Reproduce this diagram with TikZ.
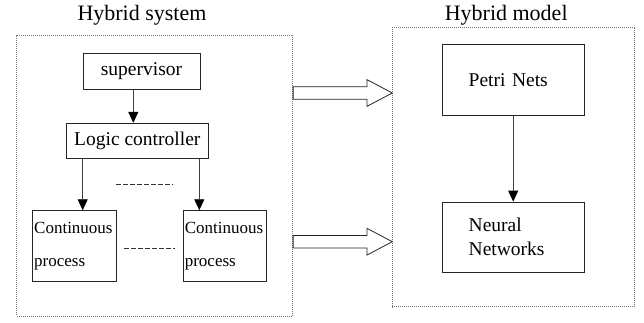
\documentclass[tikz,border=0pt]{standalone}
\usepackage{fontspec}
\setmainfont{Liberation Serif}
\usetikzlibrary{arrows.meta,calc}

\tikzset{
  frame/.style={draw=black!55, line width=0.8pt, dash pattern=on 1pt off 1pt, inner sep=0pt},
  blockbox/.style={draw=black!85, line width=0.9pt, inner sep=0pt},
  flow/.style={draw=black!75, line width=0.9pt, -{Triangle[width=10pt,length=11pt,color=black]}},
  blockarr/.style={draw=black!85, line width=0.8pt, fill=white},
  titletext/.style={font=\fontsize{22}{26}\selectfont, anchor=base},
  bodyfont/.style={font=\fontsize{19.5}{24}\selectfont},
  smallfont/.style={font=\fontsize{17}{32.3}\selectfont},
  ellipsis/.style={draw=black!80, dash pattern=on 5pt off 2pt}
}

\newcommand\hollowarrow[2]{%
  \draw[blockarr] ($(#1)+(0,-6.3)$) -- ($(#2)+(-25.4,-6.3)$) -- ($(#2)+(-25.4,-13.4)$)
    -- (#2) -- ($(#2)+(-25.4,13.4)$) -- ($(#2)+(-25.4,6.3)$) -- ($(#1)+(0,6.3)$) -- cycle;}

\begin{document}
\begin{tikzpicture}[x=1pt,y=-1pt]
  \useasboundingbox (0,0) rectangle (644,322);

  % titles
  \node[titletext] (t1) at (142,20) {Hybrid system};
  \node[titletext] (t2) at (506.2,20) {Hybrid model};

  % outer dotted frames
  \node[frame, minimum width=276pt, minimum height=281pt] (sys) at (154.7,175.5) {};
  \node[frame, minimum width=242.7pt, minimum height=279.4pt] (mdl) at (513.35,167) {};

  % hybrid system blocks
  \node[blockbox, bodyfont, minimum width=117pt, minimum height=35.7pt] (sup) at (141.5,71.2) {supervisor};
  \node[blockbox, bodyfont, minimum width=142pt, minimum height=35pt] (logic) at (137.3,140.8) {Logic controller};
  \node[blockbox, smallfont, minimum height=71pt, text width=81pt, inner xsep=1.5pt, align=left]
    (cpl) at (74.7,246.2) {Continuous\\process};
  \node[blockbox, smallfont, minimum height=71pt, text width=80.4pt, inner xsep=1.5pt, align=left]
    (cpr) at (225,246.2) {Continuous\\process};

  % hybrid model blocks
  \node[blockbox, bodyfont, minimum height=70.7pt, text width=89pt, inner xsep=26.7pt, align=left]
    (petri) at (513.2,79.7) {Petri Nets};
  \node[blockbox, bodyfont, minimum height=70.3pt, text width=89pt, inner xsep=26.7pt, align=left]
    (neural) at (513.2,237.2) {Neural\\Networks};

  % arrow columns
  \coordinate (xs) at (133.3,0);
  \coordinate (xl) at (82.7,0);
  \coordinate (xr) at (199.3,0);

  \draw[flow] (sup.south -| xs) -- (logic.north -| xs);
  \draw[flow] (logic.south -| xl) -- (cpl.north -| xl);
  \draw[flow] (logic.south -| xr) -- (cpr.north -| xr);
  \draw[flow] (petri.south) -- (neural.north);

  % ellipsis marks
  \coordinate (d1a) at (116,184.4);
  \coordinate (d1b) at (172.5,184.4);
  \coordinate (d2a) at (124.3,248);
  \coordinate (d2b) at (175,248);
  \draw[ellipsis, line width=1.2pt] (d1a) -- (d1b);
  \draw[ellipsis, line width=0.8pt] (d2a) -- (d2b);

  % hollow arrows between the frames
  \coordinate (ya) at (0,93);
  \coordinate (yb) at (0,241.7);
  \coordinate (a1s) at (sys.east |- ya);
  \coordinate (a1e) at ([xshift=0.7pt]mdl.west |- ya);
  \coordinate (a2s) at (sys.east |- yb);
  \coordinate (a2e) at ([xshift=0.7pt]mdl.west |- yb);
  \hollowarrow{a1s}{a1e}
  \hollowarrow{a2s}{a2e}
\end{tikzpicture}
\end{document}
